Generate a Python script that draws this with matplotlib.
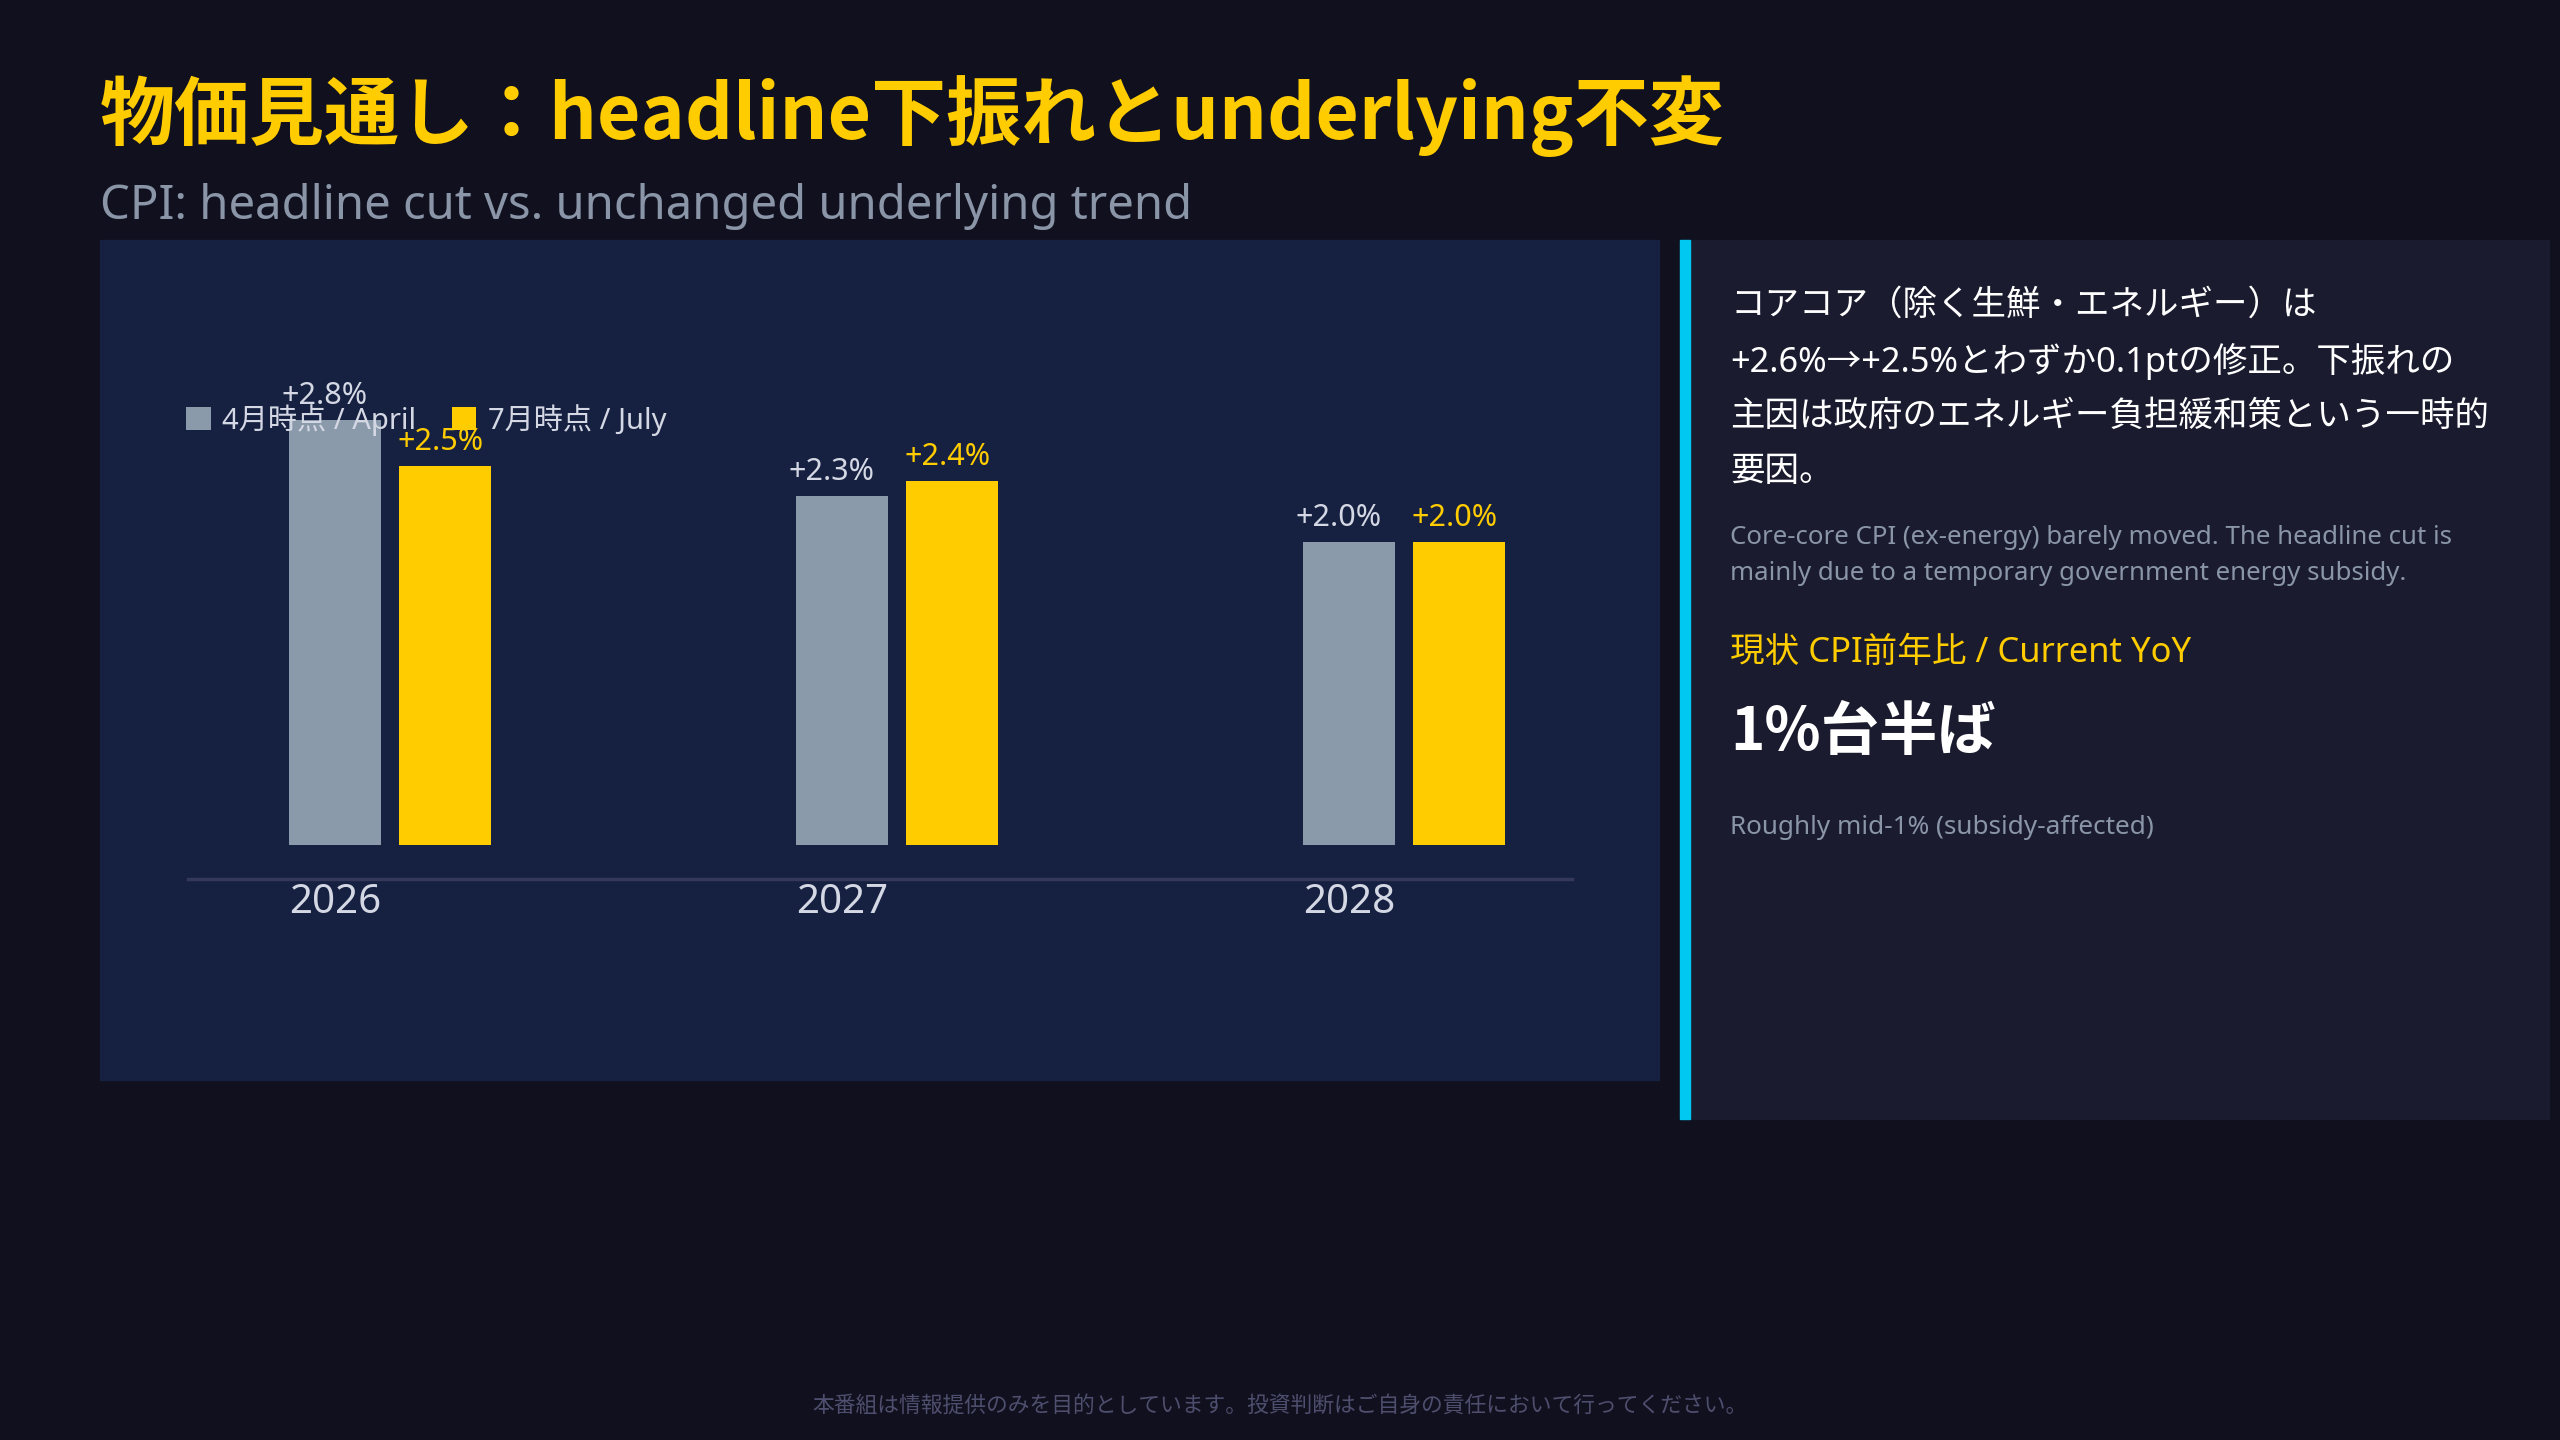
import matplotlib
matplotlib.use("Agg")
import matplotlib.pyplot as plt
from matplotlib.patches import Rectangle

plt.rcParams['font.family'] = ['Noto Sans', 'Noto Sans CJK JP', 'DejaVu Sans']
BOLD_FONT = ['Noto Sans CJK JP', 'DejaVu Sans']

# data
years = ['2026', '2027', '2028']
april = [2.8, 2.3, 2.0]
july = [2.5, 2.4, 2.0]
series_names = ['4月時点 / April', '7月時点 / July']

title = '物価見通し：headline下振れとunderlying不変'
subtitle = 'CPI: headline cut vs. unchanged underlying trend'
note_jp = ['コアコア（除く生鮮・エネルギー）は',
           '+2.6%→+2.5%とわずか0.1ptの修正。下振れの',
           '主因は政府のエネルギー負担緩和策という一時的',
           '要因。']
note_en = ['Core-core CPI (ex-energy) barely moved. The headline cut is',
           'mainly due to a temporary government energy subsidy.']
kpi_label = '現状 CPI前年比 / Current YoY'
kpi_value = '1%台半ば'
kpi_note = 'Roughly mid-1% (subsidy-affected)'
footer = '本番組は情報提供のみを目的としています。投資判断はご自身の責任において行ってください。'

BG = '#10101e'
PANEL = '#162040'
SIDE = '#1a1b2e'
GRAY_BAR = '#8a9aaa'
YELLOW = '#ffcc00'
LIGHT = '#d4d8e4'
MUTED = '#8a95a8'

W, H = 2560, 1440
fig = plt.figure(figsize=(25.6, 14.4), dpi=100, facecolor=BG)


def fx(px):
    return px / W


def fy(py):
    return 1 - py / H


# panels
fig.patches.append(Rectangle((fx(100), fy(1080)), fx(1659) - fx(100), fy(240) - fy(1080),
                             transform=fig.transFigure, color=PANEL, zorder=0))
fig.patches.append(Rectangle((fx(1680), fy(1119)), fx(2549) - fx(1680), fy(240) - fy(1119),
                             transform=fig.transFigure, color=SIDE, zorder=0))
fig.patches.append(Rectangle((fx(1680), fy(1119)), fx(1690) - fx(1680), fy(240) - fy(1119),
                             transform=fig.transFigure, color='#00c8f0', zorder=1))

# titles
fig.text(fx(100), fy(116), title, color=YELLOW, fontsize=54, fontweight='bold',
         family=BOLD_FONT, va='center')
fig.text(fx(100), fy(207), subtitle, color=MUTED, fontsize=34, va='center')

# chart
ax = fig.add_axes([fx(188), fy(879), fx(1572) - fx(188), fy(300) - fy(879)])
ax.set_zorder(3)
ax.set_facecolor('none')
x = range(len(years))
bw = 0.181
off = 0.217
b1 = ax.bar([i for i in x], april, width=bw, color=GRAY_BAR, label=series_names[0], zorder=2)
b2 = ax.bar([i + off for i in x], july, width=bw, color=YELLOW, label=series_names[1], zorder=2)
for i, v in enumerate(april):
    ax.annotate(f'+{v:.1f}%', (i, v), xytext=(-10, 9), textcoords='offset pixels',
                ha='center', va='bottom', color=LIGHT, fontsize=22, zorder=4)
for i, v in enumerate(july):
    ax.annotate(f'+{v:.1f}%', (i + off, v), xytext=(-4, 9), textcoords='offset pixels',
                ha='center', va='bottom', color=YELLOW, fontsize=22, zorder=4)
ax.set_xlim(-0.29, 2.44)
ax.set_ylim(-0.224, 3.593)
ax.set_xticks(list(x))
ax.set_xticklabels(years, color=LIGHT, fontsize=29)
ax.tick_params(axis='x', length=0, pad=3)
ax.set_yticks([])
for s in ['top', 'right', 'left']:
    ax.spines[s].set_visible(False)
ax.spines['bottom'].set_color('#34395a')
ax.spines['bottom'].set_linewidth(2.5)

leg = ax.legend(handles=[b1, b2], loc='center left', bbox_to_anchor=(fx(186), fy(420)),
                bbox_transform=fig.transFigure,
                ncol=2, frameon=False, fontsize=21, handlelength=0.85, handleheight=0.85,
                handletextpad=0.4, columnspacing=1.2, borderpad=0, borderaxespad=0)
for t in leg.get_texts():
    t.set_color(LIGHT)
leg.set_zorder(5)

# side panel text
for k, line in enumerate(note_jp):
    fig.text(fx(1730), fy(306 + k * 55.5), line, color='white', fontsize=24.8, va='center')
for k, line in enumerate(note_en):
    fig.text(fx(1730), fy(537 + k * 36), line, color=MUTED, fontsize=18.6, va='center')
fig.text(fx(1730), fy(653), kpi_label, color=YELLOW, fontsize=24.9, va='center')
fig.text(fx(1730), fy(733), kpi_value, color='white', fontsize=42, fontweight='bold',
         family=BOLD_FONT, va='center')
fig.text(fx(1730), fy(828), kpi_note, color=MUTED, fontsize=18.8, va='center')

fig.text(0.5, fy(1406), footer, color='#4e4e6e', fontsize=15.7, ha='center', va='center')

fig.savefig('out.png', dpi=100, facecolor=BG)
